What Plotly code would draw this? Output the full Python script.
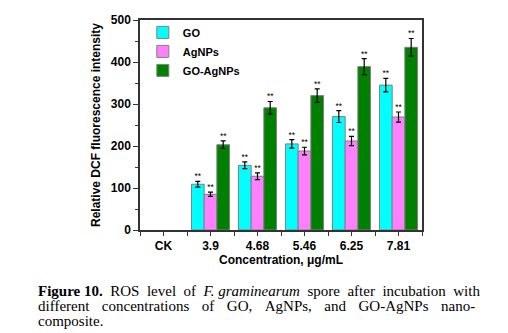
import plotly.graph_objects as go

categories = ["CK", "3.9", "4.68", "5.46", "6.25", "7.81"]
go_vals = [None, 109, 154, 205, 270, 345]
go_err = [0, 7, 8, 10, 14, 16]
ag_vals = [None, 85, 128, 188, 212, 269]
ag_err = [0, 5, 8, 9, 11, 12]
goag_vals = [None, 203, 291, 320, 389, 435]
goag_err = [0, 9, 15, 16, 19, 21]
star_labels = ["", "**", "**", "**", "**", "**"]

series = [
    ("GO", go_vals, go_err, "#00FFFF"),
    ("AgNPs", ag_vals, ag_err, "#FF80FF"),
    ("GO-AgNPs", goag_vals, goag_err, "#008000"),
]

BARGAP = 0.19
n = len(series)
w = (1 - BARGAP) / n
xs = list(range(len(categories)))

fig = go.Figure()
for k, (name, vals, errs, color) in enumerate(series):
    fig.add_trace(go.Bar(
        x=xs, y=vals, name=name,
        marker=dict(color=color, line=dict(color="#808080", width=1)),
        error_y=dict(type="data", array=errs, color="black", thickness=1.2, width=2.5),
    ))
for k, (name, vals, errs, color) in enumerate(series):
    sx = [i + (k - (n - 1) / 2) * w for i in xs]
    sy = [(v + e) if v is not None else None for v, e in zip(vals, errs)]
    fig.add_trace(go.Scatter(
        x=sx, y=sy, mode="text", text=star_labels, textposition="top center",
        textfont=dict(size=8.5, color="black", family="Liberation Sans"),
        showlegend=False, cliponaxis=False, hoverinfo="skip",
    ))

bold = dict(family="Liberation Sans", size=12, color="black", weight="bold")

fig.update_layout(
    width=508, height=333,
    margin=dict(l=140, r=86, t=20, b=103),
    paper_bgcolor="white", plot_bgcolor="white",
    barmode="group", bargap=BARGAP, bargroupgap=0,
    showlegend=True,
    legend=dict(x=0.01, y=1.01, xanchor="left", yanchor="top",
                bgcolor="rgba(0,0,0,0)", font=dict(family="Liberation Sans", size=11, color="black", weight="bold"),
                tracegroupgap=0, itemwidth=30),
    xaxis=dict(
        range=[-0.5, len(categories) - 0.5],
        tickmode="array", tickvals=xs, ticktext=categories,
        ticks="outside", ticklen=4, tickwidth=1, tickcolor="#333",
        minor=dict(tickmode="array", tickvals=[i - 0.5 for i in xs] + [len(xs) - 0.5],
                   ticks="outside", ticklen=4, tickcolor="#333"),
        showline=True, linecolor="#333", linewidth=1.5, mirror=True,
        showgrid=False, zeroline=False,
        tickfont=bold,
        title=dict(text="Concentration, μg/mL", font=bold, standoff=1),
    ),
    yaxis=dict(
        range=[0, 500], tickvals=[0, 100, 200, 300, 400, 500],
        ticks="outside", ticklen=5, tickwidth=1, tickcolor="#333",
        minor=dict(dtick=50, ticks="outside", ticklen=3, tickcolor="#333"),
        showline=True, linecolor="#333", linewidth=1.5, mirror=True,
        showgrid=False, zeroline=False,
        tickfont=bold,
        title=dict(text="Relative DCF fluorescence intensity", font=bold, standoff=8),
    ),
)

serif = dict(family="Liberation Serif", size=15, color="black")
S = "&nbsp;"
H = "&#8202;"
G2 = S * 3 + H
caption_lines = [
    f"<b>Figure{S}10.</b>{S}{S}ROS{S}{S}level{S}{S}of{S}{S}<i>F.{S}graminearum</i>{S}{S}spore{S}{S}after{S}{S}incubation{S}{S}with",
    f"different{G2}concentrations{G2}of{G2}GO,{G2}AgNPs,{G2}and{G2}GO-AgNPs{G2}nano-",
    "composite.",
]
for j, line in enumerate(caption_lines):
    fig.add_annotation(
        xref="paper", yref="paper", x=-0.37, y=-0.29 - j * 0.0725,
        xanchor="left", yanchor="middle", showarrow=False,
        text=line, font=serif,
    )

fig.write_html("out.html")
